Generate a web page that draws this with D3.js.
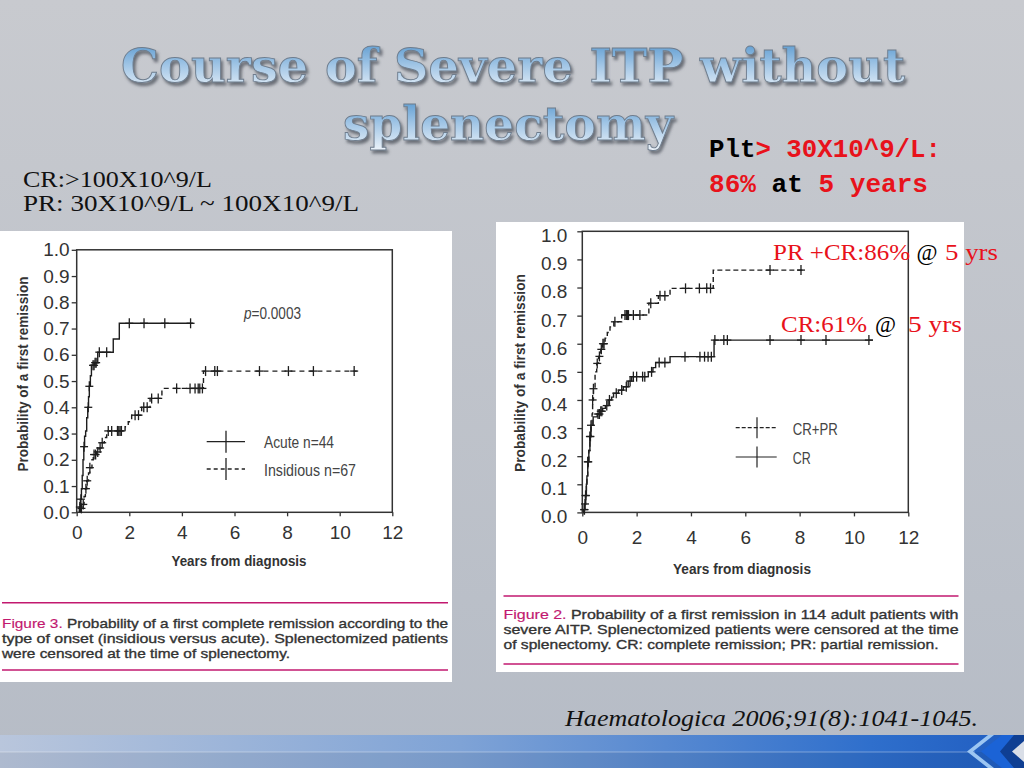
<!DOCTYPE html>
<html><head><meta charset="utf-8">
<script src="https://cdn.jsdelivr.net/npm/d3@7"></script>
<style>body{margin:0;overflow:hidden;background:#bcc1ca}svg{display:block}</style>
</head><body>
<svg id="c" width="1024" height="768"></svg>
<script>
// ---------------- data ----------------
const yearTicks = [0, 2, 4, 6, 8, 10, 12];
const probTicks = [0, 0.1, 0.2, 0.3, 0.4, 0.5, 0.6, 0.7, 0.8, 0.9, 1.0];

// Figure 3 (left): Acute vs Insidious
const acuteSteps = [[0.10,0.02],[0.14,0.05],[0.18,0.09],[0.21,0.14],[0.24,0.20],[0.27,0.25],[0.30,0.29],[0.34,0.31],[0.38,0.36],[0.42,0.40],[0.45,0.44],[0.48,0.48],[0.52,0.52],[0.56,0.56],[0.68,0.57],[0.80,0.61],[1.39,0.66],[1.62,0.72]];
const acuteCensor = [0.12,0.16,0.28,0.44,0.48,0.62,0.66,0.70,0.74,0.86,1.14,2.00,2.56,3.35,4.33];
const acuteEnd = 4.43;
const insidSteps = [[0.15,0.015],[0.22,0.03],[0.28,0.06],[0.33,0.09],[0.38,0.12],[0.45,0.15],[0.50,0.17],[0.58,0.20],[0.63,0.22],[0.75,0.23],[0.85,0.245],[0.95,0.265],[1.05,0.285],[1.14,0.31],[1.84,0.326],[1.96,0.345],[2.09,0.37],[2.47,0.40],[2.79,0.434],[3.24,0.472],[4.82,0.538]];
const insidCensor = [0.18,0.25,0.35,0.40,0.50,0.66,0.72,0.80,0.89,0.97,1.20,1.33,1.55,1.60,1.65,1.70,2.22,2.35,2.55,2.68,2.85,3.10,3.80,4.31,4.50,4.62,4.68,4.78,4.90,5.25,5.35,6.95,8.05,9.00,10.55];
const insidEnd = 10.65;

// Figure 2 (right): CR+PR vs CR
const crprSteps = [[0.05,0.01],[0.09,0.03],[0.12,0.06],[0.15,0.10],[0.17,0.13],[0.20,0.18],[0.24,0.22],[0.28,0.27],[0.32,0.31],[0.36,0.35],[0.38,0.40],[0.41,0.44],[0.47,0.50],[0.53,0.53],[0.60,0.555],[0.68,0.58],[0.75,0.60],[0.84,0.62],[0.92,0.64],[1.02,0.66],[1.16,0.678],[1.45,0.702],[2.45,0.744],[2.80,0.771],[3.23,0.797],[4.82,0.862]];
const crprCensor = [0.08,0.12,0.20,0.28,0.32,0.38,0.41,0.55,0.63,0.70,0.76,0.80,1.20,1.57,1.62,1.66,1.70,1.88,2.12,2.52,2.86,3.04,3.80,4.31,4.58,4.72,6.91,8.05];
const crprEnd = 8.2;
const crSteps = [[0.05,0.01],[0.09,0.03],[0.12,0.06],[0.15,0.10],[0.17,0.13],[0.20,0.18],[0.24,0.22],[0.28,0.27],[0.32,0.31],[0.40,0.34],[0.55,0.35],[0.65,0.36],[0.75,0.37],[0.85,0.38],[0.95,0.40],[1.08,0.41],[1.15,0.424],[1.33,0.435],[1.51,0.447],[1.69,0.467],[1.82,0.483],[2.43,0.50],[2.60,0.515],[2.70,0.533],[3.23,0.554],[4.85,0.613]];
const crCensor = [0.07,0.10,0.13,0.22,0.30,0.58,0.63,0.68,0.72,0.90,1.00,1.25,1.45,1.62,1.76,1.88,2.00,2.22,2.30,2.55,2.83,3.04,3.78,4.33,4.50,4.63,4.75,4.88,5.21,5.34,6.91,8.05,8.97,10.55];
const crEnd = 10.7;

const titleLines = ["Course of Severe ITP without", "splenectomy"];
const defLines = ["CR:>100X10^9/L", "PR: 30X10^9/L ~ 100X10^9/L"];
const leftLegend = ["Acute n=44", "Insidious n=67"];
const rightLegend = ["CR+PR", "CR"];
const cap3 = ["Figure 3.", " Probability of a first complete remission according to the", "type of onset (insidious versus acute). Splenectomized patients", "were censored at the time of splenectomy."];
const cap2 = ["Figure 2.", " Probability of a first remission in 114 adult patients with", "severe AITP. Splenectomized patients were censored at the time", "of splenectomy. CR: complete remission; PR: partial remission."];
const citation = "Haematologica 2006;91(8):1041-1045.";

// ---------------- drawing ----------------
const svg = d3.select("#c");
const defs = svg.append("defs");
const bg = defs.append("linearGradient").attr("id","bg").attr("x1",0).attr("y1",0).attr("x2",0).attr("y2",1);
bg.append("stop").attr("offset","0%").attr("stop-color","#c8cacf");
bg.append("stop").attr("offset","100%").attr("stop-color","#b6bcc6");
const tg = defs.append("linearGradient").attr("id","tg").attr("x1",0).attr("y1",0).attr("x2",0).attr("y2",1);
tg.append("stop").attr("offset","0%").attr("stop-color","#4f93cc");
tg.append("stop").attr("offset","50%").attr("stop-color","#a2c6e6");
tg.append("stop").attr("offset","100%").attr("stop-color","#eef4fa");
const band = defs.append("linearGradient").attr("id","band");
band.append("stop").attr("offset","0%").attr("stop-color","#b9c6dc");
band.append("stop").attr("offset","45%").attr("stop-color","#7fa3d6");
band.append("stop").attr("offset","85%").attr("stop-color","#2f6fcc");
band.append("stop").attr("offset","100%").attr("stop-color","#1f5cc0");
const sh = defs.append("filter").attr("id","sh").attr("x","-5%").attr("y","-20%").attr("width","110%").attr("height","150%");
sh.append("feDropShadow").attr("dx",2).attr("dy",3).attr("stdDeviation",1.6).attr("flood-color","#4a4f58").attr("flood-opacity",0.75);

svg.append("rect").attr("width",1024).attr("height",768).attr("fill","url(#bg)");

// bottom band
svg.append("rect").attr("x",0).attr("y",735).attr("width",1024).attr("height",33).attr("fill","url(#band)");
svg.append("rect").attr("x",0).attr("y",752).attr("width",1024).attr("height",16).attr("fill","#000").attr("opacity",0.06);
svg.append("line").attr("x1",0).attr("x2",975).attr("y1",752).attr("y2",752).attr("stroke","#fff").attr("stroke-opacity",0.35).attr("stroke-width",1);
svg.append("polygon").attr("points","1002,735 981,751.5 1002,768 1024,768 1024,735").attr("fill","#1b63d6");
svg.append("polygon").attr("points","988,735 967,751.5 988,768 994,768 973,751.5 994,735").attr("fill","#9cc6f2");
svg.append("polygon").attr("points","1014,735 1000,751.5 1014,768 1024,768 1024,735").attr("fill","#0f3f93");
svg.append("polygon").attr("points","1024,741 1012,751.5 1024,762").attr("fill","#d9dee7");

// title
titleLines.forEach((t,i)=>{
  svg.append("text").attr("x", i===0?121:343).attr("y", i===0?82:140)
    .attr("textLength", i===0?784:330).attr("lengthAdjust","spacingAndGlyphs")
    .attr("font-family","DejaVu Serif, serif").attr("font-weight","bold").attr("font-size",47)
    .attr("fill","url(#tg)").attr("stroke","#6f7d8d").attr("stroke-width",0.9)
    .attr("filter","url(#sh)").text(t);
});

// definitions (left)
defLines.forEach((t,i)=>{
  svg.append("text").attr("x",23).attr("y", i===0?187:211)
    .attr("textLength", i===0?189:336).attr("lengthAdjust","spacingAndGlyphs")
    .attr("font-family","Liberation Serif, serif").attr("font-size",23).attr("fill","#111").text(t);
});

// Plt annotation
const red = "#e8121b";
const p1 = svg.append("text").attr("x",709).attr("y",157).attr("textLength",232).attr("lengthAdjust","spacingAndGlyphs")
  .attr("font-family","Liberation Mono, monospace").attr("font-weight","bold").attr("font-size",25);
p1.append("tspan").attr("fill","#000").text("Plt");
p1.append("tspan").attr("fill",red).text("> 30X10^9/L:");
const p2 = svg.append("text").attr("x",709).attr("y",192).attr("textLength",219).attr("lengthAdjust","spacingAndGlyphs")
  .attr("font-family","Liberation Mono, monospace").attr("font-weight","bold").attr("font-size",25);
p2.append("tspan").attr("fill",red).text("86%");
p2.append("tspan").attr("fill","#000").text(" at ");
p2.append("tspan").attr("fill",red).text("5");
p2.append("tspan").attr("fill",red).text(" years");

// panels
svg.append("rect").attr("x",0).attr("y",231).attr("width",452).attr("height",451).attr("fill","#fff");
svg.append("rect").attr("x",496).attr("y",222).attr("width",468).attr("height",450).attr("fill","#fff");

function level(steps, t){
  let p = 0;
  for (const s of steps) { if (s[0] <= t) p = s[1]; }
  return p;
}

function drawKM(g, x, y, steps, censors, end, dash){
  let d = "M" + x(steps[0][0]) + "," + y(0);
  steps.forEach(s => { d += "H" + x(s[0]) + "V" + y(s[1]); });
  d += "H" + x(end);
  g.append("path").attr("d", d).attr("fill","none").attr("stroke","#1e1e1e").attr("stroke-width",1.4)
    .attr("stroke-dasharray", dash || null);
  censors.forEach(t => {
    const cx = x(t), cy = y(level(steps, t));
    g.append("line").attr("x1",cx-4).attr("x2",cx+4).attr("y1",cy).attr("y2",cy).attr("stroke","#1e1e1e").attr("stroke-width",1.3);
    g.append("line").attr("x1",cx).attr("x2",cx).attr("y1",cy-5).attr("y2",cy+5).attr("stroke","#1e1e1e").attr("stroke-width",1.3);
  });
}

function drawChart(cfg){
  const g = svg.append("g");
  const x = d3.scaleLinear().domain([0,12]).range([cfg.x0, cfg.x1]);
  const y = d3.scaleLinear().domain([0,1]).range([cfg.y0, cfg.y1]);
  const ya = g.append("g").attr("transform","translate("+cfg.x0+",0)")
    .call(d3.axisLeft(y).tickValues(probTicks).tickFormat(d3.format(".1f")).tickSize(5).tickPadding(cfg.yPad));
  const xa = g.append("g").attr("transform","translate(0,"+cfg.y0+")")
    .call(d3.axisBottom(x).tickValues(yearTicks).tickFormat(d3.format("d")).tickSize(4).tickPadding(cfg.xPad));
  [ya, xa].forEach(a => {
    a.select(".domain").remove();
    a.selectAll("line").attr("stroke","#333").attr("stroke-width",1.3);
    a.selectAll("text").attr("font-family","Liberation Sans, Arial, sans-serif").attr("font-size",19).attr("fill","#333");
  });
  ya.selectAll("text").attr("dy", cfg.yDy);
  g.append("rect").attr("x",cfg.x0).attr("y",cfg.y1).attr("width",cfg.x1-cfg.x0).attr("height",cfg.y0-cfg.y1)
    .attr("fill","none").attr("stroke","#333").attr("stroke-width",1.5);
  g.append("text").attr("transform","translate("+cfg.ytx+","+cfg.yty+") rotate(-90)").attr("text-anchor","middle")
    .attr("textLength",cfg.ytl).attr("lengthAdjust","spacingAndGlyphs")
    .attr("font-family","Liberation Sans, Arial, sans-serif").attr("font-weight","bold").attr("font-size",15).attr("fill","#333")
    .text("Probability of a first remission");
  g.append("text").attr("x",cfg.xtx).attr("y",cfg.xty).attr("text-anchor","middle")
    .attr("textLength",cfg.xtl).attr("lengthAdjust","spacingAndGlyphs")
    .attr("font-family","Liberation Sans, Arial, sans-serif").attr("font-weight","bold").attr("font-size",15).attr("fill","#333")
    .text("Years from diagnosis");
  return {g, x, y};
}

// Left chart (Figure 3)
const L = drawChart({x0:76.7, x1:392.3, y0:512.3, y1:249.8, yPad:2, xPad:9, yDy:"0.32em",
  ytx:28, yty:374, ytl:195, xtx:239, xty:566, xtl:135});
drawKM(L.g, L.x, L.y, acuteSteps, acuteCensor, acuteEnd, null);
drawKM(L.g, L.x, L.y, insidSteps, insidCensor, insidEnd, "5,4");
const pText = L.g.append("text").attr("x",244).attr("y",319).attr("textLength",57).attr("lengthAdjust","spacingAndGlyphs")
  .attr("font-family","Liberation Sans, Arial, sans-serif").attr("font-size",16).attr("fill","#444");
pText.append("tspan").attr("font-style","italic").text("p");
pText.append("tspan").text("=0.0003");
[[441.7,null],[469,"4,3"]].forEach((r,i)=>{
  L.g.append("line").attr("x1",206.7).attr("x2",245).attr("y1",r[0]).attr("y2",r[0]).attr("stroke","#222").attr("stroke-width",1.3).attr("stroke-dasharray",r[1]);
  L.g.append("line").attr("x1",226).attr("x2",226).attr("y1",r[0]-11).attr("y2",r[0]+11).attr("stroke","#222").attr("stroke-width",1.3);
  L.g.append("text").attr("x",264).attr("y",r[0]+6.5).attr("textLength",i===0?70:92).attr("lengthAdjust","spacingAndGlyphs")
    .attr("font-family","Liberation Sans, Arial, sans-serif").attr("font-size",17).attr("fill","#444").text(leftLegend[i]);
});

// Right chart (Figure 2)
const R = drawChart({x0:582.3, x1:908.3, y0:512.4, y1:231.3, yPad:10, xPad:14, yDy:"0.55em",
  ytx:525, yty:373, ytl:198, xtx:742, xty:574, xtl:138});
drawKM(R.g, R.x, R.y, crSteps, crCensor, crEnd, null);
drawKM(R.g, R.x, R.y, crprSteps, crprCensor, crprEnd, "5,3");
[[427.7,"4,2"],[457,null]].forEach((r,i)=>{
  R.g.append("line").attr("x1",735.7).attr("x2",776.7).attr("y1",r[0]).attr("y2",r[0]).attr("stroke","#222").attr("stroke-width",1.2).attr("stroke-dasharray",r[1]);
  R.g.append("line").attr("x1",757).attr("x2",757).attr("y1",r[0]-10.5).attr("y2",r[0]+10.5).attr("stroke","#222").attr("stroke-width",1.2);
  R.g.append("text").attr("x",792.7).attr("y",r[0]+7).attr("textLength",i===0?45:18).attr("lengthAdjust","spacingAndGlyphs")
    .attr("font-family","Liberation Sans, Arial, sans-serif").attr("font-size",17).attr("fill","#444").text(rightLegend[i]);
});

// right annotations
function ann(x, yb, t, col, w){
  svg.append("text").attr("x",x).attr("y",yb).attr("textLength",w).attr("lengthAdjust","spacingAndGlyphs")
    .attr("font-family","Liberation Serif, serif").attr("font-size",23).attr("fill",col).text(t);
}
ann(773, 260, "PR +CR:86%", red, 137);
ann(916.5, 260, "@", "#000", 21);
ann(945, 260, "5 yrs", red, 53);
ann(781, 332, "CR:61%", red, 86);
ann(875, 332, "@", "#000", 21);
ann(908, 332, "5 yrs", red, 54);

// captions
const mag = "#c2186f";
function capText(x, y, w){
  return svg.append("text").attr("x",x).attr("y",y).attr("textLength",w).attr("lengthAdjust","spacingAndGlyphs")
    .attr("font-family","Liberation Sans, Arial, sans-serif").attr("font-size",13).attr("fill","#333")
    .attr("stroke","#333").attr("stroke-width",0.35);
}
function caption(lines, x0, x1, lineY, base, lastW){
  lineY.forEach(yy => svg.append("line").attr("x1",x0).attr("x2",x1).attr("y1",yy).attr("y2",yy).attr("stroke",mag).attr("stroke-width",1.6));
  const t1 = capText(x0, base[0], x1-x0);
  t1.append("tspan").attr("fill",mag).attr("stroke",mag).attr("stroke-width",0.15).text(lines[0]);
  t1.append("tspan").text(lines[1]);
  capText(x0, base[1], x1-x0).text(lines[2]);
  capText(x0, base[2], lastW).text(lines[3]);
}
caption(cap3, 2, 448, [602.7, 670], [627.5, 642.5, 657.5], 288);
caption(cap2, 503.5, 958.5, [596, 664], [618.5, 633.5, 648.5], 435);

// citation
svg.append("text").attr("x",565).attr("y",726).attr("textLength",413).attr("lengthAdjust","spacingAndGlyphs")
  .attr("font-family","Liberation Serif, serif").attr("font-style","italic").attr("font-size",23).attr("fill","#111").text(citation);
</script>
</body></html>
